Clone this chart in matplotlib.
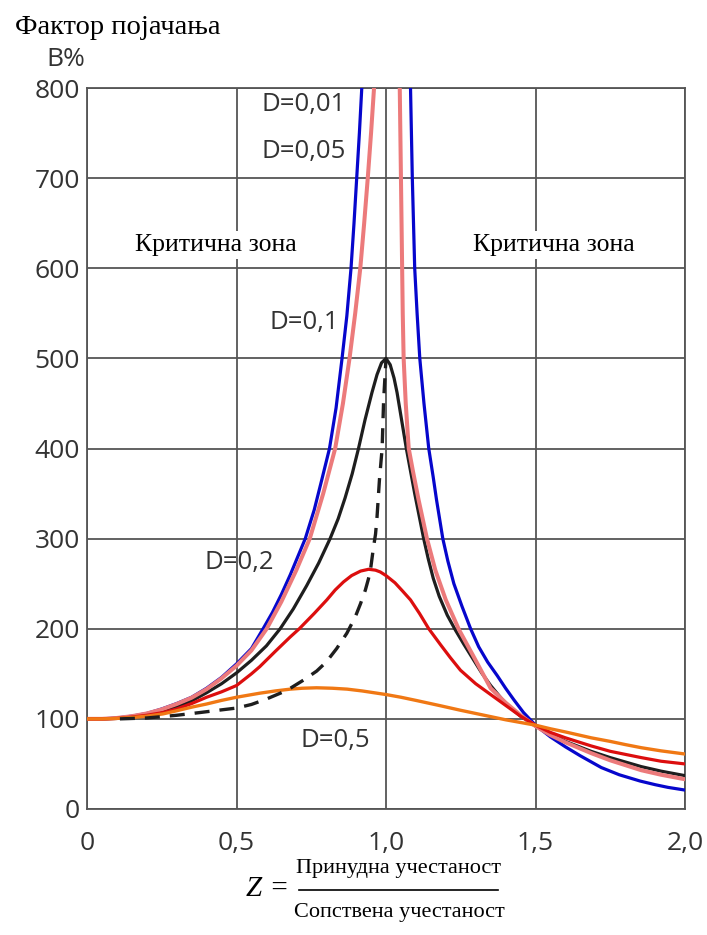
import matplotlib
matplotlib.use("Agg")
import matplotlib.pyplot as plt
from matplotlib.lines import Line2D

matplotlib.rcParams['font.family'] = 'Open Sans'

# ── values (Z, B%) ────────────────────────────────────────────────
# D = 0,01 (two branches, both leave the top of the plot)
z_d001_l = [0, 0.05, 0.1, 0.15, 0.2, 0.25, 0.3, 0.35, 0.4, 0.45, 0.5, 0.55,
            0.589, 0.62, 0.65, 0.68, 0.71, 0.73, 0.76, 0.785, 0.811, 0.833,
            0.853, 0.869, 0.883, 0.893, 0.902, 0.911, 0.919]
b_d001_l = [100, 100, 101, 103, 106, 111, 117, 124, 134, 146, 161, 178,
            200, 218, 238, 260, 284, 300, 332, 365, 400, 445,
            500, 547, 600, 650, 700, 750, 800]
z_d001_r = [1.082, 1.085, 1.088, 1.092, 1.096, 1.104, 1.113, 1.127, 1.143,
            1.158, 1.169, 1.190, 1.207, 1.227, 1.254, 1.283, 1.31, 1.34,
            1.372, 1.40, 1.428, 1.46, 1.5, 1.55, 1.6, 1.65, 1.72, 1.78,
            1.85, 1.9, 1.943, 2.0]
b_d001_r = [800, 750, 700, 650, 600, 550, 500, 450, 400,
            368, 343, 300, 275, 250, 225, 200, 180, 163,
            148, 134, 121, 107, 93, 80, 69, 59, 46, 38,
            31, 27, 24, 21]

# D = 0,05
z_d005_l = [0, 0.05, 0.1, 0.15, 0.2, 0.25, 0.3, 0.35, 0.4, 0.45, 0.5, 0.55,
            0.601, 0.65, 0.7, 0.745, 0.79, 0.830, 0.856, 0.878, 0.897,
            0.914, 0.927, 0.939, 0.950, 0.960]
b_d005_l = [100, 100, 101, 103, 106, 110.5, 116.5, 123.5, 133, 145, 159, 176,
            200, 230, 265, 300, 350, 400, 450, 500, 550,
            600, 650, 700, 750, 800]
z_d005_r = [1.046, 1.048, 1.050, 1.052, 1.054, 1.056, 1.059, 1.066, 1.076,
            1.09, 1.109, 1.137, 1.165, 1.2, 1.244, 1.29, 1.35, 1.4, 1.45,
            1.5, 1.55, 1.6, 1.686, 1.75, 1.854, 1.92, 2.0]
b_d005_r = [800, 750, 700, 650, 600, 550, 500, 450, 400,
            375, 343, 300, 265, 232, 199, 171, 134, 118, 104,
            92, 82, 74, 62, 54, 43, 38, 33]

# D = 0,1
z_d01 = [0, 0.05, 0.1, 0.15, 0.2, 0.254, 0.3, 0.35, 0.4, 0.45, 0.5, 0.55,
         0.6, 0.646, 0.69, 0.735, 0.775, 0.813, 0.84, 0.863, 0.887, 0.908,
         0.93, 0.953, 0.97, 0.985, 1.0, 1.014, 1.027, 1.037, 1.052, 1.068,
         1.082, 1.096, 1.111, 1.126, 1.141, 1.158, 1.178, 1.205, 1.233,
         1.26, 1.29, 1.32, 1.35, 1.4, 1.45, 1.5, 1.55, 1.6, 1.686, 1.75,
         1.854, 1.92, 2.0]
b_d01 = [100, 100, 100.5, 102, 104.5, 108, 113, 120, 129, 139, 151, 165,
         181, 200, 222, 248, 273, 300, 322, 345, 372, 400,
         432, 462, 482, 495, 500, 493, 478, 462, 432, 400,
         375, 350, 325, 300, 278, 256, 236, 215, 198,
         183, 167, 151, 137, 117, 103, 92, 83, 75, 64, 57,
         47, 42, 37]

# D = 0,2
z_d02 = [0, 0.05, 0.1, 0.15, 0.2, 0.254, 0.3, 0.35, 0.4, 0.45, 0.5, 0.55,
         0.578, 0.63, 0.68, 0.71, 0.76, 0.802, 0.83, 0.858, 0.885, 0.915,
         0.942, 0.965, 0.981, 1.0, 1.03, 1.055, 1.082, 1.112, 1.143, 1.183,
         1.215, 1.249, 1.3, 1.35, 1.4, 1.45, 1.5, 1.55, 1.6, 1.686, 1.75,
         1.854, 1.92, 2.0]
b_d02 = [100, 100, 100.5, 102, 104, 107, 111, 117, 124, 130, 137, 150,
         158, 175, 191, 200, 217, 232, 243, 252, 259, 264,
         266, 265, 263, 259, 251, 242, 232, 217, 200, 182,
         168, 154, 139, 127, 115, 103, 93, 85, 79, 70, 64,
         57, 53, 50]

# D = 0,5
z_d05 = [0, 0.05, 0.1, 0.15, 0.2, 0.254, 0.3, 0.35, 0.4, 0.45, 0.5, 0.578,
         0.63, 0.68, 0.72, 0.768, 0.82, 0.87, 0.92, 1.0, 1.05, 1.1, 1.183,
         1.25, 1.3, 1.35, 1.4, 1.45, 1.5, 1.55, 1.6, 1.686, 1.75, 1.8,
         1.854, 1.92, 2.0]
b_d05 = [100, 100, 100.5, 101.5, 103, 105.5, 109, 113, 116.5, 120.5, 124, 128.5,
         131, 133, 134, 134.5, 134, 133, 131, 127, 124, 120.5, 114.5,
         109.5, 106, 102.5, 99, 96, 93, 89, 85.5, 79, 75, 71.5,
         68, 64.5, 61]

# dashed resonance-peak locus
z_peak = [0.11, 0.2, 0.254, 0.3, 0.377, 0.45, 0.5, 0.55, 0.6, 0.668, 0.724,
          0.768, 0.8, 0.835, 0.869, 0.897, 0.915, 0.931, 0.941, 0.948,
          0.958, 0.965, 0.970, 0.978, 0.987, 0.992, 1.0]
b_peak = [100, 101, 102.6, 104, 107, 110, 112, 116, 122, 131.5, 143,
          153, 163, 178, 195, 213, 228, 243, 255, 265,
          290, 305, 324, 365, 400, 453, 500]

x_ticks = [0, 0.5, 1.0, 1.5, 2.0]
x_ticklabels = ["0", "0,5", "1,0", "1,5", "2,0"]
y_ticks = [0, 100, 200, 300, 400, 500, 600, 700, 800]

grid_col = "#555555"
blue, pink, black = "#0606cc", "#ec7a7b", "#1e1e1e"
red, orange = "#dc0e0e", "#f07814"

fig = plt.figure(figsize=(7.07, 9.35), dpi=100)
ax = fig.add_axes([87/707, 1 - 809/935, 598/707, 721/935])

ax.plot(z_d001_l, b_d001_l, color=blue, lw=2.3, zorder=3)
ax.plot(z_d001_r, b_d001_r, color=blue, lw=2.3, zorder=3)
ax.plot(z_d01, b_d01, color=black, lw=2.3, zorder=3)
ax.plot(z_d005_l, b_d005_l, color=pink, lw=2.9, zorder=3)
ax.plot(z_d005_r, b_d005_r, color=pink, lw=2.9, zorder=3)
ax.plot(z_d02, b_d02, color=red, lw=2.3, zorder=4)
ax.plot(z_d05, b_d05, color=orange, lw=2.4, zorder=4)
ax.plot(z_peak, b_peak, color=black, lw=2.4, dashes=(4.5, 3), zorder=5)

ax.set_xlim(0, 2.0)
ax.set_ylim(0, 800)
ax.set_xticks(x_ticks)
ax.set_xticklabels(x_ticklabels)
ax.set_yticks(y_ticks)
ax.tick_params(length=0, labelsize=19, labelcolor="#333333")
ax.tick_params(axis="x", pad=16)
ax.tick_params(axis="y", pad=5)
ax.grid(True, color=grid_col, lw=1.3)
for s in ax.spines.values():
    s.set_color(grid_col)
    s.set_linewidth(1.3)

# curve labels
lab = dict(fontsize=18.5, color="#333333", ha="center", va="center", zorder=6)
ax.text(0.725, 782, "D=0,01", **lab)
ax.text(0.725, 729, "D=0,05", **lab)
ax.text(0.725, 540, "D=0,1", **lab)
ax.text(0.51, 274, "D=0,2", **lab)
ax.text(0.83, 76, "D=0,5", **lab)

zone = dict(fontsize=18.5, family="Liberation Serif", ha="center", va="center",
            zorder=6, bbox=dict(facecolor="white", edgecolor="none", pad=2))
ax.text(0.43, 626, "Критична зона", **zone)
ax.text(1.56, 626, "Критична зона", **zone)

# outer texts
fig.text(15/707, 1 - 28/935, "Фактор појачања", family="Liberation Serif",
         fontsize=20.5, ha="left", va="center")
fig.text(85/707, 1 - 60/935, "B%", fontsize=19, color="#333333",
         ha="right", va="center")

fig.text(268/707, 1 - 889/935, "Z =", family="Liberation Serif",
         style="italic", fontsize=21, ha="center", va="center")
fig.text(399/707, 1 - 868/935, "Принудна учестаност", family="Liberation Serif",
         fontsize=16, ha="center", va="center")
fig.text(399/707, 1 - 912/935, "Сопствена учестаност", family="Liberation Serif",
         fontsize=16, ha="center", va="center")
fig.add_artist(Line2D([299/707, 498/707], [1 - 890/935, 1 - 890/935],
                      color="black", lw=1.2))

fig.savefig("out.png", dpi=100)
